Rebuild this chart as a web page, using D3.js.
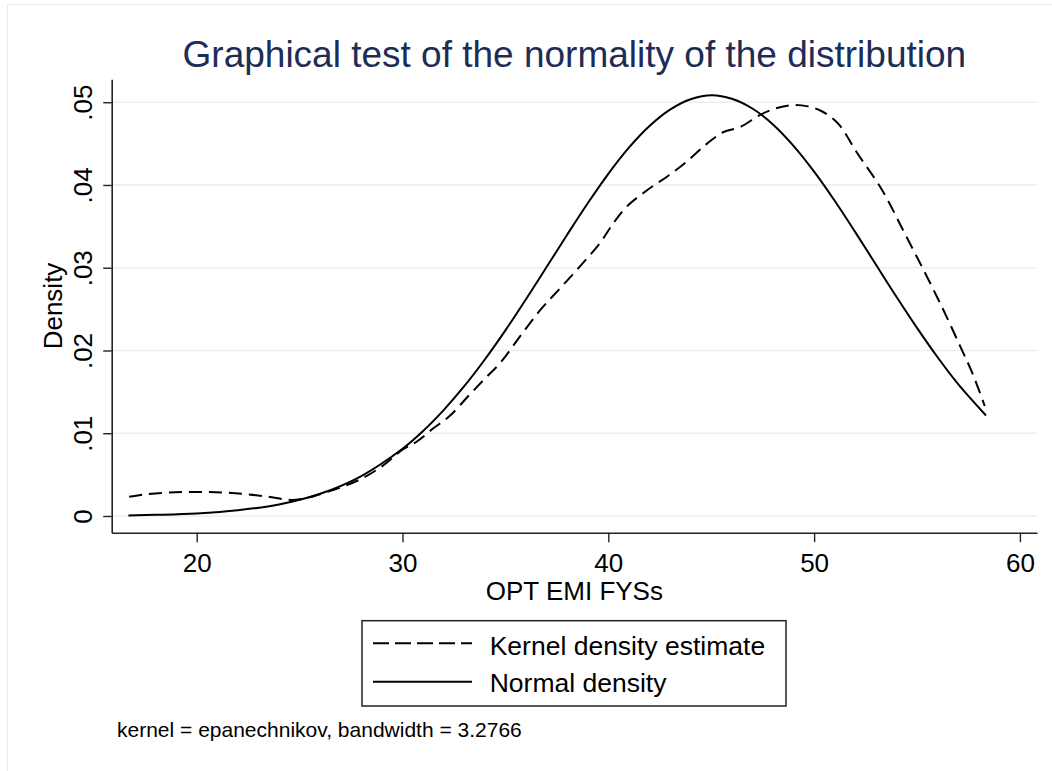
<!DOCTYPE html>
<html>
<head>
<meta charset="utf-8">
<script src="https://cdn.jsdelivr.net/npm/d3@7"></script>
<style>
  html, body { margin: 0; padding: 0; background: #fff; }
  svg { display: block; }
  text { font-family: "Liberation Sans", Arial, Helvetica, sans-serif; }
</style>
</head>
<body>
<svg id="chart" width="1052" height="771"></svg>
<script>
// ---------- Data ----------
const kdeX = [16.72, 17.5, 18.5, 19.5, 20.5, 21.5, 22.5, 23.5, 24.3, 24.8, 25.5, 26.2, 27.0, 28.0, 29.0, 30.0, 30.7, 31.5, 32.3, 33.2, 34.0, 34.75, 35.7, 36.7, 37.65, 38.6, 39.6, 40.25, 40.9, 41.9, 42.85, 43.8, 44.8, 45.6, 46.4, 47.4, 48.2, 49.0, 49.7, 50.3, 51.15, 52.1, 53.3, 54.4, 55.4, 56.3, 57.1, 57.7, 58.29];
const kdeY = [0.00233, 0.00262, 0.00282, 0.00290, 0.00290, 0.00282, 0.00262, 0.00232, 0.00200, 0.00195, 0.00228, 0.00280, 0.00345, 0.00450, 0.00600, 0.00800, 0.00900, 0.01060, 0.01210, 0.01450, 0.01660, 0.01850, 0.02167, 0.02490, 0.02750, 0.03010, 0.03300, 0.03540, 0.03740, 0.03940, 0.04100, 0.04280, 0.04500, 0.04640, 0.04700, 0.04850, 0.04930, 0.04967, 0.04950, 0.04900, 0.04746, 0.04383, 0.03940, 0.03416, 0.02933, 0.02480, 0.02050, 0.01720, 0.01329];

const normX = [16.68, 18, 20, 22, 24, 26, 28, 30, 31, 32, 33, 34, 35, 36, 37, 38, 39, 40, 41, 42, 43, 44, 45.03, 46, 47, 48, 49, 50, 51, 52, 53, 54, 55, 56, 57, 58.35];
const normY = [0.00007, 0.00014, 0.00031, 0.00069, 0.00140, 0.00269, 0.00483, 0.00812, 0.01027, 0.01280, 0.01568, 0.01891, 0.02243, 0.02619, 0.03008, 0.03399, 0.03779, 0.04135, 0.04451, 0.04713, 0.04911, 0.05036, 0.05085, 0.05042, 0.04924, 0.04732, 0.04473, 0.04161, 0.03809, 0.03430, 0.03039, 0.02649, 0.02273, 0.01918, 0.01593, 0.01215];

const xTicks = [20, 30, 40, 50, 60];
const yTicks = [0, 0.01, 0.02, 0.03, 0.04, 0.05];
const yTickLabels = ["0", ".01", ".02", ".03", ".04", ".05"];

const titleText = "Graphical test of the normality of the distribution";
const xTitle = "OPT EMI FYSs";
const yTitle = "Density";
const legendLabels = ["Kernel density estimate", "Normal density"];
const noteText = "kernel = epanechnikov, bandwidth = 3.2766";

// ---------- Layout ----------
const svg = d3.select("#chart");
const plot = { left: 111.7, right: 1037, top: 79.3, bottom: 532.7 };

const x = d3.scaleLinear().domain([15.87, 60.83]).range([plot.left, plot.right]);
const y = d3.scaleLinear().domain([-0.002018, 0.05277]).range([plot.bottom, plot.top]);

// outer graph-region frame (only left/top edges visible in the reference)
svg.append("rect")
  .attr("x", 7.5).attr("y", 4.5).attr("width", 1100).attr("height", 800)
  .attr("fill", "none").attr("stroke", "#e4ecf0").attr("stroke-width", 1);

// gridlines
svg.append("g").selectAll("line").data(yTicks).join("line")
  .attr("x1", plot.left).attr("x2", plot.right)
  .attr("y1", d => y(d)).attr("y2", d => y(d))
  .attr("stroke", "#e7eff2").attr("stroke-width", 1.6);

// title
svg.append("text")
  .attr("x", (plot.left + plot.right) / 2).attr("y", 66.7)
  .attr("text-anchor", "middle")
  .attr("font-size", 37)
  .attr("fill", "#1e2d55")
  .text(titleText);

// x axis
const xAxis = svg.append("g")
  .attr("transform", `translate(0,${plot.bottom})`)
  .call(d3.axisBottom(x).tickValues(xTicks).tickSize(9.5).tickSizeOuter(0).tickFormat(d3.format("d")));
xAxis.select(".domain").attr("stroke", "#222").attr("stroke-width", 1.6);
xAxis.selectAll(".tick line").attr("stroke", "#222").attr("stroke-width", 1.4);
xAxis.selectAll(".tick text")
  .attr("y", 39.8).attr("dy", 0)
  .attr("font-size", 26).attr("fill", "#000")
  .attr("font-family", "Liberation Sans, Arial, sans-serif");

// y axis
const yAxis = svg.append("g")
  .attr("transform", `translate(${plot.left},0)`)
  .call(d3.axisLeft(y).tickValues(yTicks).tickSize(8.5).tickSizeOuter(0)
    .tickFormat((d, i) => yTickLabels[i]));
yAxis.select(".domain").attr("stroke", "#222").attr("stroke-width", 1.6);
yAxis.selectAll(".tick line").attr("stroke", "#222").attr("stroke-width", 1.4);
yAxis.selectAll(".tick text")
  .attr("transform", "rotate(-90)")
  .attr("x", 0).attr("y", -20).attr("dy", 0)
  .attr("text-anchor", "middle")
  .attr("font-size", 26).attr("fill", "#000")
  .attr("font-family", "Liberation Sans, Arial, sans-serif");

// axis titles
svg.append("text")
  .attr("x", (plot.left + plot.right) / 2).attr("y", 600)
  .attr("text-anchor", "middle").attr("font-size", 26).attr("fill", "#000")
  .text(xTitle);

svg.append("text")
  .attr("transform", `translate(62,${(plot.top + plot.bottom) / 2}) rotate(-90)`)
  .attr("text-anchor", "middle").attr("font-size", 26).attr("fill", "#000")
  .text(yTitle);

// curves
const line = d3.line().x(d => x(d[0])).y(d => y(d[1])).curve(d3.curveCatmullRom.alpha(0.5));
const kdeData = kdeX.map((v, i) => [v, kdeY[i]]);
const normData = normX.map((v, i) => [v, normY[i]]);

svg.append("path").datum(normData)
  .attr("d", line).attr("fill", "none")
  .attr("stroke", "#000").attr("stroke-width", 2);

svg.append("path").datum(kdeData)
  .attr("d", line).attr("fill", "none")
  .attr("stroke", "#000").attr("stroke-width", 2)
  .attr("stroke-dasharray", "13,7");

// legend
const lg = svg.append("g");
lg.append("rect")
  .attr("x", 362).attr("y", 620.7).attr("width", 424).attr("height", 85.3)
  .attr("fill", "#fff").attr("stroke", "#222").attr("stroke-width", 1.5);
const keyY = [643.3, 681.7];
const keyDash = ["16,6", null];
const textY = [655, 691.7];
legendLabels.forEach((lab, i) => {
  lg.append("line")
    .attr("x1", 373).attr("x2", 472).attr("y1", keyY[i]).attr("y2", keyY[i])
    .attr("stroke", "#000").attr("stroke-width", 2)
    .attr("stroke-dasharray", keyDash[i]);
  lg.append("text")
    .attr("x", 489.7).attr("y", textY[i])
    .attr("font-size", 26.5).attr("fill", "#000")
    .text(lab);
});

// note
svg.append("text")
  .attr("x", 117).attr("y", 736.7)
  .attr("font-size", 21).attr("fill", "#000")
  .text(noteText);
</script>
</body>
</html>
